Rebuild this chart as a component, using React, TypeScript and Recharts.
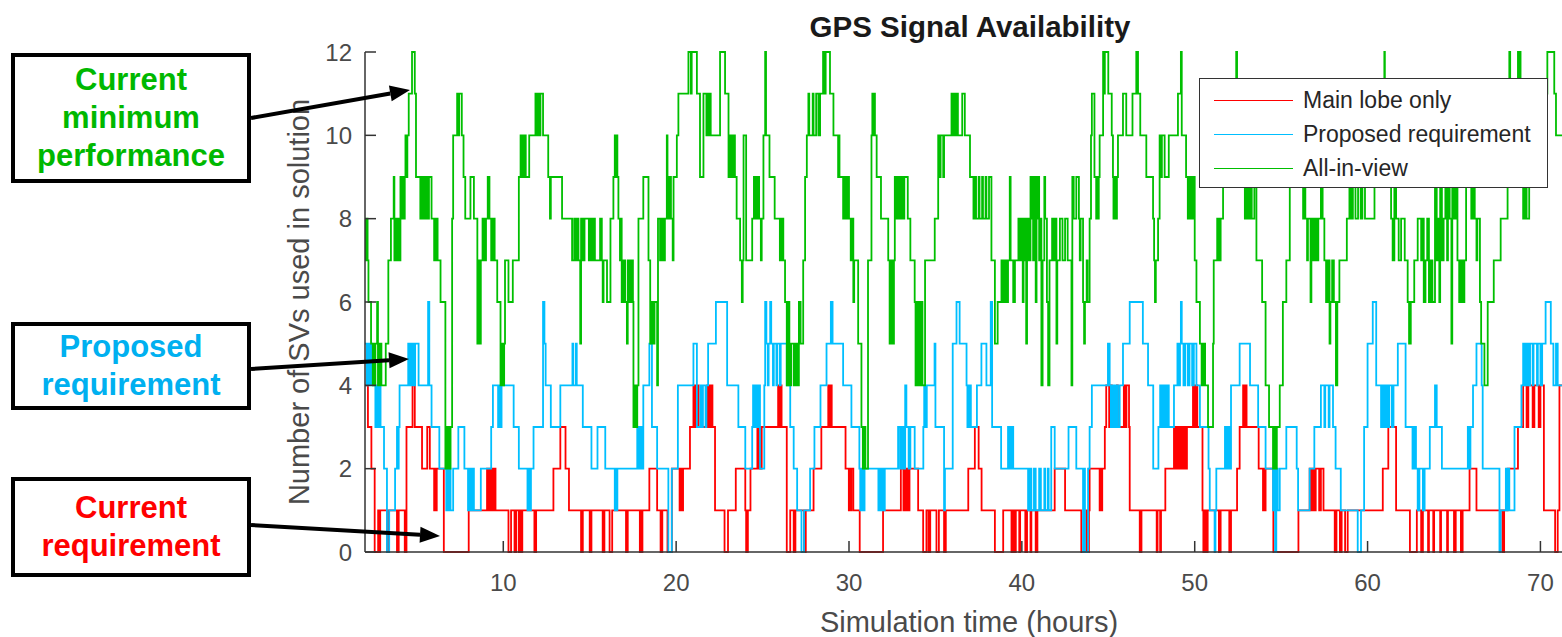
import { LineChart, Line, XAxis, YAxis } from 'recharts';

const X_TICKS = [10, 20, 30, 40, 50, 60, 70];
const Y_TICKS = [0, 2, 4, 6, 8, 10, 12];

// change points [hour, SVs]
const mainLobe: [number, number][] = [
  [2.0,4],[2.17,3],[2.37,2],[2.56,0],[2.76,1],[2.82,0],[2.88,1],[3.28,0],[3.37,1],[3.85,0],[3.95,1],[4.3,0],[4.4,3],[4.75,4],[4.88,3],[5.3,2],[5.6,3],[5.75,2],[6.0,1],[6.05,2],[6.1,1],[6.15,2],[6.56,0],
  [8.0,1],[9.06,2],[9.15,1],[9.25,2],[9.35,1],[9.45,2],[9.55,1],[10.3,0],[10.45,1],[10.65,0],[10.75,1],[10.9,0],[10.95,1],[11.05,0],[11.1,1],[11.8,0],[11.9,1],[12.9,2],[13.3,3],[13.6,2],[13.8,1],[14.5,0],[14.6,1],[15.0,0],[15.1,1],
  [15.75,0],[15.85,1],[16.15,0],[16.3,1],[17.1,0],[17.2,1],[17.9,0],[17.95,1],[18.0,0],[18.05,1],[18.45,2],[18.9,1],[19.1,0],[19.2,1],[19.5,0],[19.75,2],[20.2,1],[20.25,2],[20.35,1],[20.4,2],[20.8,3],[21.0,4],[21.1,3],[21.2,4],[21.3,3],[21.8,4],[21.9,3],[22.0,4],[22.1,3],[22.25,1],[22.8,0],[23.0,1],[23.45,2],[24.0,1],[24.05,0],[24.15,1],[24.3,2],[24.7,3],[24.75,2],[24.8,3],[24.9,2],[24.95,3],[25.9,4],[25.95,3],[26.0,4],[26.1,3],[26.4,0],[26.6,1],[26.8,0],[26.9,1],[27.4,0],[27.5,1],[27.95,2],[28.4,3],[28.8,4],[28.85,3],[28.9,4],[29.0,3],
  [29.8,2],[29.99,1],[30.05,2],[30.1,1],[30.14,2],[30.25,1],[30.62,0],[31.97,1],[33.0,2],[33.15,1],[33.2,2],[33.3,1],[33.35,2],[33.45,1],[33.5,2],[34.0,1],[34.29,0],[34.48,1],[34.6,0],[34.7,1],[35.06,0],[35.2,1],[35.5,0],[35.6,1],[36.9,2],[37.28,3],[37.5,2],[37.67,1],[38.44,0],[38.92,1],[39.4,0],[39.5,1],[39.6,0],[39.65,1],[39.85,0],[39.9,1],[40.2,0],[40.3,1],[40.5,0],[40.55,1],[40.8,0],[40.9,1],[41.9,2],[42.5,1],
  [43.44,0],[43.73,1],[43.8,0],[43.88,1],[43.92,2],[44.5,1],[44.55,2],[44.6,1],[44.65,2],[44.8,3],[44.88,4],[45.05,3],[45.1,4],[45.2,3],[45.5,4],[45.55,3],[45.9,4],[46.0,3],[46.05,4],[46.2,3],[46.24,1],[46.82,0],[46.92,1],[47.8,0],[47.85,1],[48.0,0],[48.05,1],[48.3,2],[48.8,3],[48.85,2],[48.95,3],[49.05,2],[49.15,3],[49.25,2],[49.35,3],[49.45,2],[49.55,3],[49.9,4],[50.0,3],[50.05,4],[50.15,3],[50.45,1],[50.5,0],[50.6,1],[50.65,0],[50.75,1],[51.4,0],[51.5,1],[52.0,0],[52.1,1],[52.45,2],[52.6,3],[52.8,4],[52.85,3],[52.9,4],[53.0,3],[53.7,2],[53.95,1],[54.0,2],[54.05,1],[54.1,2],[54.55,0],[56.0,1],[56.65,2],[56.7,1],[56.8,2],[56.9,1],[57.0,2],[57.2,1],[57.3,2],[57.45,1],
  [58.1,0],[58.2,1],[58.4,0],[58.5,1],[58.7,0],[58.85,1],[60.88,2],[61.2,3],[61.65,1],[62.45,0],[62.85,1],[63.1,0],[63.2,1],[63.5,0],[63.55,1],[63.8,0],[63.85,1],[64.2,0],[64.25,1],[64.6,0],[64.65,1],[65.0,0],[65.1,1],[65.4,0],[65.5,1],[65.9,2],[66.3,1],[67.8,0],[67.9,1],[68.1,2],[68.7,3],[69.0,4],[69.2,3],[69.3,4],[69.55,3],[69.65,4],[69.9,3],[70.0,4],[70.2,1],[70.85,0],[71.0,1],[71.1,4],
];

const proposed: [number, number][] = [
  [2.0,5],[2.1,4],[2.15,5],[2.25,4],[2.3,5],[2.4,4],[2.6,3],[2.65,4],[2.7,3],[2.75,4],[2.8,3],[2.85,4],[2.9,3],[3.1,2],[3.27,0],[3.4,1],[3.74,2],[3.85,3],[3.9,2],[3.95,3],[4.0,4],[4.5,5],[4.55,4],[4.6,5],[4.65,4],[4.7,5],[4.8,4],[4.9,5],[5.1,4],[5.65,6],[5.72,4],[5.85,3],[6.3,2],[6.7,1],[6.75,2],[6.8,1],[6.9,2],[6.95,1],[7.1,2],[7.4,3],[7.75,2],[7.96,1],[8.05,2],[8.1,1],[8.2,2],[8.3,1],[8.7,2],[9.3,3],[9.4,4],[9.7,3],[9.75,4],[9.85,3],[9.9,4],[10.6,3],[10.9,2],[11.4,1],[11.45,2],[11.5,1],[11.6,2],[11.75,3],[12.3,6],[12.38,5],[12.45,4],[12.75,3],[13.3,4],[14.0,5],[14.05,4],[14.2,5],[14.25,4],[14.6,3],[15.1,2],[15.45,3],
  [15.9,2],[16.45,1],[16.5,2],[16.55,1],[16.6,2],[17.75,3],[17.85,2],[17.9,3],[18.0,2],[18.1,4],[18.45,5],[18.6,3],[18.9,2],[19.55,0],[19.75,2],[20.1,4],[21.0,5],[21.2,3],[21.4,4],[21.5,3],[21.55,4],[21.7,3],[21.75,4],[21.85,5],[22.3,6],[22.95,4],[23.6,3],[24.0,2],[24.4,3],[24.45,4],[24.55,3],[24.6,4],[24.7,3],[24.75,4],[24.85,2],[25.1,4],[25.15,6],[25.22,5],[25.3,4],[25.35,5],[25.44,6],[25.5,5],[25.6,4],[25.65,5],[25.8,4],[25.85,5],[26.0,4],[26.05,5],[26.4,4],[26.6,3],[26.8,2],[27.0,1],[27.25,0],[27.4,1],[27.75,2],[28.0,3],[28.35,4],[28.7,5],[28.95,6],[29.05,5],
  [29.66,4],[30.14,3],[30.6,2],[30.65,1],[30.72,2],[30.8,1],[30.9,2],[31.7,1],[31.75,2],[31.85,1],[31.9,2],[32.0,1],[32.07,2],[32.84,3],[32.95,2],[33.05,3],[33.15,2],[33.25,4],[33.32,3],[33.45,2],[33.55,3],[33.8,2],[34.3,3],[34.35,4],[34.42,3],[34.5,4],[34.95,5],[35.0,3],[35.5,1],[35.55,2],[36.0,5],[36.22,6],[36.4,5],[36.8,4],[36.85,3],[36.95,4],[37.05,3],[37.4,4],[37.66,5],[37.95,4],[38.2,6],[38.28,3],[38.8,2],[39.2,3],[39.25,2],[39.3,3],[39.4,2],[39.45,3],[39.5,2],[40.36,1],[40.45,2],[40.55,1],[40.7,2],[40.8,1],[41.0,2],[41.1,1],[41.3,2],[41.35,1],[41.5,2],[41.55,1],[41.7,3],[41.9,2],[42.7,3],
  [43.15,2],[43.54,0],[43.6,2],[43.65,0],[43.83,2],[43.92,3],[44.05,4],[44.98,5],[45.08,4],[45.15,3],[45.25,4],[45.35,3],[45.45,4],[45.55,3],[45.66,4],[45.85,5],[46.24,6],[47.0,5],[47.3,4],[47.6,2],[47.9,3],[48.0,4],[48.1,3],[48.2,4],[48.3,3],[48.4,4],[48.5,3],[48.8,4],[49.0,5],[49.05,4],[49.15,5],[49.2,6],[49.25,5],[49.35,4],[49.45,5],[49.6,4],[49.7,5],[49.85,4],[49.95,5],[50.1,4],[50.3,3],[50.8,2],[50.87,1],[51.15,0],[51.2,1],[51.25,2],[51.75,3],[51.8,2],[51.9,3],[52.0,2],[52.1,4],[52.6,5],[53.2,4],[53.67,3],[54.1,2],[54.53,1],[54.6,3],[54.65,0],[54.72,2],[54.8,1],[54.92,2],[55.3,3],[55.9,2],[55.98,1],[56.65,2],
  [56.92,3],[57.3,4],[57.5,3],[57.55,4],[57.75,3],[57.8,4],[58.0,3],[58.15,2],[58.45,1],[59.43,0],[59.62,1],[59.8,3],[60.0,5],[60.3,6],[60.5,4],[60.78,3],[60.85,4],[60.95,3],[61.05,4],[61.15,3],[61.25,4],[61.4,3],[61.5,4],[61.75,5],[62.2,3],[62.6,2],[62.7,3],[62.8,2],[62.9,1],[63.0,2],[63.2,1],[63.3,2],[63.6,3],[63.9,4],[64.0,3],[64.3,2],[65.8,3],[65.9,2],[65.95,3],[66.1,4],[66.3,5],[66.6,4],[66.66,2],[67.63,0],[67.7,1],[68.0,2],[68.05,1],[68.15,2],[68.2,1],[68.5,3],[68.9,4],[69.0,5],[69.1,4],[69.2,5],[69.3,4],[69.4,5],[69.55,4],[69.6,5],[69.8,4],[69.85,5],[70.0,4],[70.1,5],[70.3,6],[70.6,5],[70.75,4],[70.9,5],[71.0,4],
];

const allInView: [number, number][] = [
  [2.0,8],[2.05,7],[2.1,8],[2.15,7],[2.2,6],[2.35,5],[2.45,4],[2.5,5],[2.55,4],[2.6,5],[2.7,6],[2.75,4],[2.85,5],[2.95,4],[3.2,5],[3.35,7],[3.5,8],[3.66,9],[3.7,7],[3.78,8],[3.85,7],[3.9,8],[3.95,7],[4.05,9],[4.1,8],[4.15,9],[4.2,8],[4.3,9],[4.34,10],[4.4,9],[4.45,10],[4.53,11],[4.72,12],[4.88,11],[4.95,9],[5.2,8],[5.3,9],[5.4,8],[5.5,9],[5.6,8],[5.7,9],[5.85,8],[6.0,7],[6.1,8],[6.2,7],[6.37,6],[6.65,2],[6.75,3],[6.85,2],[6.95,3],[7.04,8],[7.1,10],[7.33,11],[7.4,10],[7.45,11],[7.6,10],[7.7,9],[7.8,8],[8.1,9],[8.3,8],[8.5,5],[8.55,7],[8.6,5],[8.7,7],[8.8,8],[8.9,7],[9.0,8],[9.1,9],[9.2,8],[9.3,7],[9.4,8],[9.5,7],[9.65,6],[9.84,4],[9.9,5],[9.95,4],[10.05,5],[10.1,7],[10.3,6],[10.55,7],[10.9,9],[11.0,10],[11.1,9],[11.2,10],[11.3,9],[11.5,10],[11.86,11],[11.95,10],[12.0,11],[12.1,10],[12.15,11],[12.3,10],[12.6,9],[12.7,8],[12.75,9],[13.4,8],[13.98,7],[14.1,8],[14.17,7],[14.25,8],[14.35,7],[14.45,5],[14.5,8],[14.6,7],[14.7,8],[14.95,7],[15.0,8],[15.1,7],[15.2,8],[15.3,7],
  [15.6,8],[15.7,7],[15.75,6],[15.8,7],[16.0,6],[16.2,8],[16.37,9],[16.45,10],[16.5,9],[16.56,10],[16.6,9],[16.66,8],[16.75,7],[16.8,8],[16.85,6],[16.95,7],[17.05,6],[17.15,5],[17.2,7],[17.3,6],[17.4,7],[17.5,6],[17.53,3],[17.6,4],[17.65,3],[17.75,4],[17.82,8],[18.1,9],[18.4,7],[18.5,5],[18.6,6],[18.65,5],[18.75,6],[18.9,4],[18.95,8],[19.07,7],[19.15,8],[19.25,7],[19.35,8],[19.46,10],[19.5,8],[19.6,9],[19.7,8],[19.8,7],[19.85,9],[20.04,10],[20.13,11],[20.71,12],[20.85,11],[20.9,12],[21.2,11],[21.38,9],[21.58,11],[21.75,10],[21.8,11],[21.85,10],[21.9,11],[22.0,10],[22.54,12],[22.83,11],[23.03,9],[23.1,10],[23.2,9],[23.3,10],[23.4,9],[23.5,8],[23.7,7],[23.8,6],[23.85,7],[23.9,10],[24.05,7],[24.4,8],[24.5,9],[24.6,8],[24.7,9],[24.8,8],[24.9,7],[24.95,8],[25.05,10],[25.15,12],[25.2,10],[25.4,9],[25.7,8],[26.0,7],[26.1,8],[26.2,7],[26.3,6],[26.4,4],[26.5,6],[26.55,4],[26.65,5],[26.8,4],[26.9,5],[27.0,4],[27.1,6],[27.2,5],[27.35,7],[27.46,9],[27.56,10],[27.65,11],[27.7,10],[27.9,11],[27.95,10],[28.1,11],[28.23,10],[28.33,11],[28.5,12],[28.6,11],[28.65,12],[28.9,11],[29.1,10],
  [29.37,9],[29.4,10],[29.45,9],[29.66,8],[29.7,9],[29.75,8],[29.8,9],[29.85,8],[29.95,9],[30.0,8],[30.1,7],[30.2,8],[30.25,6],[30.3,7],[30.53,5],[30.72,3],[30.8,2],[30.85,3],[30.95,2],[31.1,7],[31.3,10],[31.35,11],[31.4,10],[31.45,11],[31.5,10],[31.6,9],[31.85,8],[32.27,7],[32.35,5],[32.4,7],[32.5,5],[32.6,7],[32.65,9],[32.75,8],[32.8,9],[32.9,8],[33.0,9],[33.1,8],[33.2,9],[33.4,8],[33.55,7],[33.8,6],[33.85,4],[33.95,6],[34.05,4],[34.15,6],[34.25,4],[34.4,7],[34.96,8],[35.16,10],[35.25,9],[35.3,10],[35.45,9],[35.5,10],[35.93,11],[36.0,10],[36.05,11],[36.15,10],[36.2,11],[36.3,10],[36.55,11],[36.7,10],[37.0,9],[37.2,8],[37.3,9],[37.35,8],[37.5,9],[37.55,8],[37.7,9],[37.75,8],[37.9,9],[37.95,8],[38.1,9],[38.24,7],[38.44,5],[38.6,6],[38.82,7],[38.9,6],[39.0,7],[39.1,6],[39.2,7],[39.3,9],[39.35,7],[39.5,6],[39.6,7],[39.8,8],[39.9,7],[39.95,8],[40.05,6],[40.1,8],[40.2,7],[40.25,5],[40.3,8],[40.4,7],[40.5,9],[40.55,8],[40.6,9],[40.65,7],[40.7,9],[40.8,6],[40.85,8],[40.9,9],[41.0,7],[41.05,8],[41.13,4],[41.2,7],[41.3,9],[41.35,8],[41.45,6],[41.52,4],[41.6,7],[41.75,8],[41.85,7],[41.9,8],[42.0,5],[42.05,7],[42.2,8],[42.35,7],[42.5,8],[42.65,7],[42.87,4],[42.92,9],[43.0,8],
  [43.15,9],[43.3,8],[43.35,7],[43.4,8],[43.54,6],[43.6,5],[43.65,6],[43.75,7],[43.8,6],[43.92,8],[44.0,10],[44.05,11],[44.2,9],[44.3,8],[44.35,9],[44.4,8],[44.45,9],[44.5,10],[44.7,12],[44.75,11],[44.8,12],[45.0,11],[45.2,10],[45.27,9],[45.3,8],[45.35,9],[45.45,8],[45.5,9],[45.56,10],[45.85,11],[46.04,10],[46.4,11],[46.62,12],[46.72,11],[46.85,10],[47.2,9],[47.59,8],[47.65,7],[47.7,6],[47.75,7],[47.88,8],[47.97,10],[48.05,9],[48.1,10],[48.26,9],[48.5,10],[49.03,11],[49.2,12],[49.25,10],[49.5,9],[49.6,8],[49.7,9],[49.8,8],[49.9,9],[50.0,7],[50.1,6],[50.3,5],[50.4,4],[50.5,5],[50.6,4],[50.77,3],[51.06,5],[51.1,7],[51.3,8],[51.4,7],[51.5,8],[51.64,9],[51.75,10],[51.8,9],[52.2,10],[52.3,11],[52.4,12],[52.45,11],[52.55,9],[52.6,10],[52.7,9],[52.9,8],[53.0,9],[53.1,8],[53.2,9],[53.3,8],[53.45,9],[53.57,7],[53.9,6],[54.1,4],[54.3,3],[54.53,2],[54.6,3],[54.65,2],[54.75,3],[54.92,4],[55.1,6],[55.3,7],[55.5,9],[55.7,10],[55.8,9],[55.9,10],[56.1,9],[56.27,8],[56.35,9],[56.4,8],[56.5,7],[56.55,8],[56.7,6],[56.75,8],[56.85,7],[56.95,8],[57.05,7],[57.15,8],
  [57.3,9],[57.4,8],[57.5,7],[57.6,6],[57.7,7],[57.8,5],[57.85,6],[57.95,7],[58.05,6],[58.17,4],[58.25,6],[58.37,7],[58.8,8],[58.95,9],[59.05,8],[59.15,9],[59.3,8],[59.45,9],[59.6,8],[59.7,9],[59.8,10],[59.85,8],[60.4,10],[60.6,9],[60.75,10],[60.97,12],[61.0,10],[61.2,9],[61.36,8],[61.45,7],[61.55,9],[61.65,8],[61.8,7],[61.94,8],[62.15,7],[62.32,6],[62.4,5],[62.5,6],[62.7,7],[62.9,8],[63.1,7],[63.2,8],[63.25,6],[63.35,7],[63.45,8],[63.55,6],[63.65,7],[63.75,6],[63.9,9],[64.0,7],[64.05,8],[64.15,6],[64.2,9],[64.3,7],[64.4,8],[64.5,9],[64.6,7],[64.65,9],[64.75,8],[64.85,5],[64.9,9],[65.0,8],[65.1,9],[65.2,7],[65.3,6],[65.4,7],[65.5,6],[65.6,7],[65.7,9],[65.75,10],[65.8,9],[66.0,8],[66.1,9],[66.2,8],[66.3,7],[66.35,8],[66.5,6],[66.57,5],[66.76,4],[66.95,6],[67.3,7],[67.7,8],[68.1,10],[68.2,12],[68.25,11],[68.7,12],[68.75,11],[68.8,12],[68.85,10],[69.0,8],[69.1,9],[69.2,8],[69.35,9],[69.5,10],[69.9,9],[70.23,10],[70.3,11],[70.4,12],[70.8,11],[70.9,10],
];

const SERIES = [
  { name: 'Main lobe only', color: '#ff0000', steps: mainLobe },
  { name: 'Proposed requirement', color: '#00bfff', steps: proposed },
  { name: 'All-in-view', color: '#00bf00', steps: allInView },
];

const X_END = 72;

function toRows(steps: [number, number][]) {
  const rows = steps.map(([t, v]) => ({ t, v })).sort((a, b) => a.t - b.t);
  rows.push({ t: X_END, v: rows[rows.length - 1].v });
  return rows;
}

const FONT = '"Liberation Sans", Arial, Helvetica, sans-serif';
const AXIS = '#333333';

function Arrow({ x1, y1, x2, y2 }: { x1: number; y1: number; x2: number; y2: number }) {
  const a = Math.atan2(y2 - y1, x2 - x1);
  const len = 20;
  const half = 8;
  const bx = x2 - len * Math.cos(a);
  const by = y2 - len * Math.sin(a);
  const px = -Math.sin(a) * half;
  const py = Math.cos(a) * half;
  return (
    <g>
      <line x1={x1} y1={y1} x2={bx} y2={by} stroke="#000" strokeWidth={4} />
      <polygon points={`${x2},${y2} ${bx + px},${by + py} ${bx - px},${by - py}`} fill="#000" />
    </g>
  );
}

function NoteBox({ top, height, color, lines }: { top: number; height: number; color: string; lines: string[] }) {
  return (
    <div
      style={{
        position: 'absolute', left: 11, top, width: 240, height,
        border: '4px solid #000', boxSizing: 'border-box', background: '#fff',
        display: 'flex', flexDirection: 'column', justifyContent: 'center', alignItems: 'center',
        color, fontFamily: FONT, fontWeight: 'bold', fontSize: 31, lineHeight: '38px',
      }}
    >
      {lines.map((l) => <div key={l}>{l}</div>)}
    </div>
  );
}

export default function App() {
  return (
    <div style={{ position: 'absolute', left: 0, top: 0, width: 1562, height: 637, overflow: 'hidden', background: '#fff' }}>
      <div style={{ position: 'absolute', left: 0, top: 0 }}>
        <LineChart width={1600} height={637} margin={{ top: 52, right: 25, bottom: 55, left: 325 }}>
          <XAxis
            xAxisId="b"
            type="number"
            dataKey="t"
            domain={[2, X_END]}
            allowDataOverflow
            ticks={X_TICKS}
            interval={0}
            height={30}
            tickSize={-11}
            tickMargin={33}
            axisLine={{ stroke: AXIS, strokeWidth: 1.5 }}
            tickLine={{ stroke: AXIS, strokeWidth: 1.5 }}
            tick={{ fill: '#4a4a4a', fontSize: 24, fontFamily: FONT }}
          />
          <XAxis
            xAxisId="top"
            orientation="top"
            type="number"
            dataKey="t"
            domain={[2, X_END]}
            allowDataOverflow
            ticks={X_TICKS}
            interval={0}
            height={0}
            tickSize={-11}
            tickFormatter={() => ''}
            axisLine={{ stroke: AXIS, strokeWidth: 1.5 }}
            tickLine={{ stroke: AXIS, strokeWidth: 1.5 }}
          />
          <YAxis
            type="number"
            domain={[0, 12]}
            ticks={Y_TICKS}
            interval={0}
            width={40}
            tickSize={-11}
            tickMargin={24}
            axisLine={{ stroke: AXIS, strokeWidth: 1.5 }}
            tickLine={{ stroke: AXIS, strokeWidth: 1.5 }}
            tick={{ fill: '#4a4a4a', fontSize: 24, fontFamily: FONT }}
          />
          {SERIES.map((s) => (
            <Line
              key={s.name}
              xAxisId="b"
              data={toRows(s.steps)}
              dataKey="v"
              name={s.name}
              type="stepAfter"
              stroke={s.color}
              strokeWidth={1.8}
              dot={false}
              activeDot={false}
              isAnimationActive={false}
            />
          ))}
        </LineChart>
      </div>

      <svg width={1562} height={637} style={{ position: 'absolute', left: 0, top: 0, pointerEvents: 'none' }}>
        <text x={970} y={37} textAnchor="middle" fontFamily={FONT} fontWeight="bold" fontSize={29.5} fill="#1a1a1a">
          GPS Signal Availability
        </text>
        <text x={969} y={632} textAnchor="middle" fontFamily={FONT} fontSize={29} fill="#4a4a4a">
          Simulation time (hours)
        </text>
        <text transform="translate(309,302) rotate(-90)" textAnchor="middle" fontFamily={FONT} fontSize={29} fill="#4a4a4a">
          Number of SVs used in solution
        </text>
        <Arrow x1={251} y1={118} x2={410} y2={90} />
        <Arrow x1={251} y1={369} x2={409} y2={359} />
        <Arrow x1={251} y1={525} x2={440} y2={536} />
      </svg>

      <div
        style={{
          position: 'absolute', left: 1199, top: 78, width: 349, height: 110,
          border: '1.5px solid #333', boxSizing: 'border-box', background: '#fff',
          fontFamily: FONT, fontSize: 23, color: '#262626',
        }}
      >
        {SERIES.map((s, i) => (
          <div key={s.name} style={{ position: 'absolute', left: 14, top: 6 + i * 34, height: 30, display: 'flex', alignItems: 'center' }}>
            <div style={{ width: 79, height: 0, borderTop: `1.5px solid ${s.color}`, marginRight: 10 }} />
            <span style={{ whiteSpace: 'nowrap' }}>{s.name}</span>
          </div>
        ))}
      </div>

      <NoteBox top={53} height={130} color="#00b800" lines={['Current', 'minimum', 'performance']} />
      <NoteBox top={322} height={88} color="#00b0f0" lines={['Proposed', 'requirement']} />
      <NoteBox top={477} height={100} color="#ff0000" lines={['Current', 'requirement']} />
    </div>
  );
}
